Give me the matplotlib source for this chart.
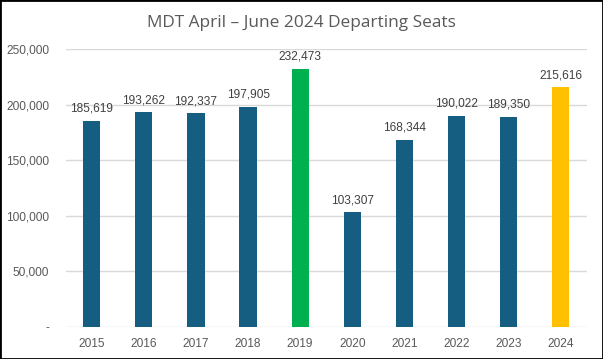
import matplotlib
matplotlib.use("Agg")
import matplotlib.pyplot as plt
from matplotlib.ticker import FuncFormatter
from matplotlib.patches import Rectangle

years = ["2015", "2016", "2017", "2018", "2019", "2020", "2021", "2022", "2023", "2024"]
seats = [185619, 193262, 192337, 197905, 232473, 103307, 168344, 190022, 189350, 215616]
colors = ["#165E81"] * 4 + ["#00B050"] + ["#165E81"] * 4 + ["#FFC000"]
title = "MDT April \u2013 June 2024 Departing Seats"

fig = plt.figure(figsize=(6.03, 3.59), dpi=100)
ax = fig.add_axes([0.109, 0.089, 0.864, 0.774])
x = range(len(years))
ax.bar(x, seats, width=0.33, color=colors, zorder=3)
for xi, v in zip(x, seats):
    ax.text(xi, v + 5500, f"{v:,}", ha="center", va="bottom", fontsize=8.6,
            color="#404040", family="Liberation Sans")
ax.set_xlim(-0.5, len(years) - 0.5)
ax.set_ylim(0, 250000)
ax.set_yticks(range(0, 250001, 50000))
ax.yaxis.set_major_formatter(FuncFormatter(lambda v, p: "-" if v == 0 else f"{int(v):,}"))
ax.set_xticks(list(x))
ax.set_xticklabels(years)
for lab in ax.get_xticklabels() + ax.get_yticklabels():
    lab.set_family("Liberation Sans")
    lab.set_fontsize(8.6)
    lab.set_color("#595959")
ax.tick_params(length=0, pad=8)
ax.tick_params(axis="y", pad=12)
ax.grid(axis="y", color="#D9D9D9", linewidth=1, zorder=0)
for s in ax.spines.values():
    s.set_visible(False)
fig.text(0.5, 0.937, title, ha="center", va="center", fontsize=12.4, color="#595959",
         family="Open Sans")
fig.patches.append(Rectangle((0, 0), 1, 1, transform=fig.transFigure, fill=False,
                             edgecolor="black", linewidth=2))
fig.savefig("out.png", dpi=100)
